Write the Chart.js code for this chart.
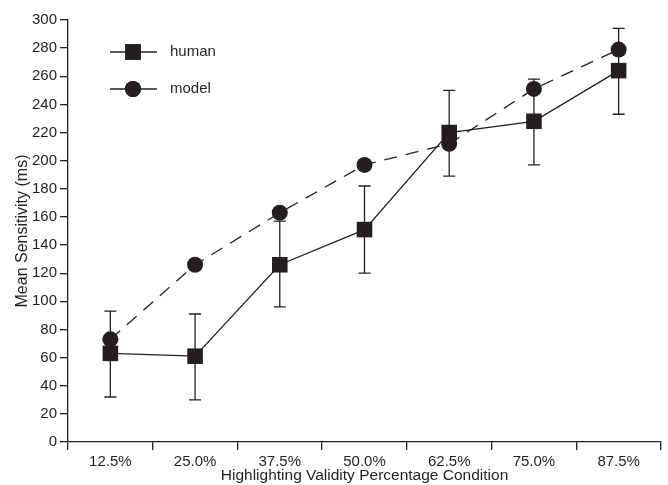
<!DOCTYPE html>
<html>
<head>
<meta charset="utf-8">
<script src="https://cdn.jsdelivr.net/npm/chart.js@4.4.0/dist/chart.umd.min.js"></script>
<style>
html,body{margin:0;padding:0;background:#fff;}
#wrap{width:668px;height:485px;position:relative;}
</style>
</head>
<body>
<div id="wrap"><canvas id="c" width="668" height="485"></canvas></div>
<script>
const categories = ['12.5%','25.0%','37.5%','50.0%','62.5%','75.0%','87.5%'];
const humanValues = [63, 61, 126, 151, 220, 228, 264];
const humanErrLow = [32, 30, 96, 120, 189, 197, 233];
const humanErrHigh = [93, 91, 157, 182, 250, 258, 294];
const modelValues = [73, 126, 163, 197, 212, 251, 279];
const yTicks = [0,20,40,60,80,100,120,140,160,180,200,220,240,260,280,300];

const INK = '#231f20';
const FONT = '"Liberation Sans", Arial, Helvetica, sans-serif';

const errorBars = {
  id: 'errorBars',
  beforeDatasetsDraw(chart) {
    const ctx = chart.ctx;
    const x = chart.scales.x, y = chart.scales.y;
    ctx.save();
    ctx.strokeStyle = INK;
    ctx.lineWidth = 1.3;
    humanValues.forEach((v, i) => {
      const px = x.getPixelForValue(i);
      const lo = y.getPixelForValue(humanErrLow[i]);
      const hi = y.getPixelForValue(humanErrHigh[i]);
      ctx.beginPath();
      ctx.moveTo(px, lo); ctx.lineTo(px, hi);
      ctx.moveTo(px - 6, lo); ctx.lineTo(px + 6, lo);
      ctx.moveTo(px - 6, hi); ctx.lineTo(px + 6, hi);
      ctx.stroke();
    });
    ctx.restore();
  }
};

const innerLegend = {
  id: 'innerLegend',
  afterDraw(chart) {
    const ctx = chart.ctx;
    const items = [
      {label: 'human', style: 'rect', r: 11, y: 52},
      {label: 'model', style: 'circle', r: 8, y: 89}
    ];
    ctx.save();
    items.forEach(it => {
      ctx.strokeStyle = INK;
      ctx.lineWidth = 1.3;
      ctx.setLineDash([]);
      ctx.beginPath();
      ctx.moveTo(110, it.y); ctx.lineTo(157, it.y);
      ctx.stroke();
      ctx.fillStyle = INK;
      Chart.helpers.drawPoint(ctx, {pointStyle: it.style, radius: it.r, borderWidth: 0}, 133, it.y);
      ctx.fill();
      ctx.fillStyle = INK;
      ctx.font = '15px ' + FONT;
      ctx.textBaseline = 'middle';
      ctx.textAlign = 'left';
      ctx.fillText(it.label, 170, it.y);
    });
    ctx.restore();
  }
};

new Chart(document.getElementById('c'), {
  type: 'line',
  data: {
    labels: categories,
    datasets: [
      {
        label: 'human',
        data: humanValues,
        borderColor: INK,
        backgroundColor: INK,
        borderWidth: 1.3,
        pointStyle: 'rect',
        pointRadius: 11,
        pointHoverRadius: 11,
        pointBorderWidth: 0,
        pointBackgroundColor: INK,
        tension: 0,
        clip: false
      },
      {
        label: 'model',
        data: modelValues,
        borderColor: INK,
        backgroundColor: INK,
        borderWidth: 1.3,
        borderDash: [13, 9],
        pointStyle: 'circle',
        pointRadius: 8,
        pointHoverRadius: 8,
        pointBorderWidth: 0,
        pointBackgroundColor: INK,
        tension: 0,
        clip: false
      }
    ]
  },
  options: {
    responsive: false,
    animation: false,
    events: [],
    layout: {autoPadding: false, padding: {top: 20, right: 7, left: 13, bottom: 0}},
    plugins: {legend: {display: false}, tooltip: {enabled: false}},
    scales: {
      x: {
        type: 'category',
        offset: true,
        afterFit(scale) { scale.height = 43; scale.paddingLeft = 0; scale.paddingRight = 0; },
        grid: {
          offset: true,
          drawOnChartArea: false,
          drawTicks: true,
          tickLength: 8,
          color: INK,
          lineWidth: 1.3
        },
        border: {display: true, color: INK, width: 1.3},
        ticks: {color: INK, font: {family: FONT, size: 15}, padding: 3, maxRotation: 0, autoSkip: false},
        title: {display: true, text: 'Highlighting Validity Percentage Condition', color: INK, font: {family: FONT, size: 15.5}, padding: {top: -1.5, bottom: 0}}
      },
      y: {
        min: 0,
        max: 300,
        afterFit(scale) { scale.width = 55; },
        afterBuildTicks(scale) { scale.ticks = yTicks.map(v => ({value: v})); },
        grid: {
          drawOnChartArea: false,
          drawTicks: true,
          tickLength: 8,
          color: INK,
          lineWidth: 1.3
        },
        border: {display: true, color: INK, width: 1.3},
        ticks: {color: INK, font: {family: FONT, size: 15}, padding: 3},
        title: {display: true, text: 'Mean Sensitivity (ms)', color: INK, font: {family: FONT, size: 16}, padding: {top: 0, bottom: 0}}
      }
    }
  },
  plugins: [errorBars, innerLegend]
});
</script>
</body>
</html>
